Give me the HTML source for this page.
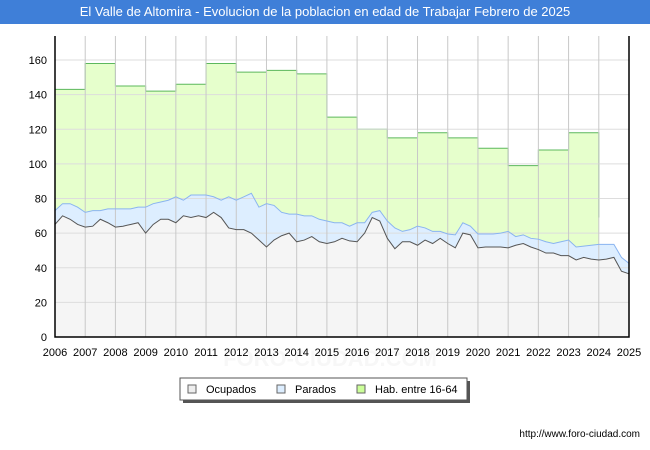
<!DOCTYPE html>
<html><head><meta charset="utf-8"><style>
body{margin:0;background:#fff;font-family:"Liberation Sans","DejaVu Sans",sans-serif}
#wrap{position:relative;width:650px;height:450px;overflow:hidden}
#title{position:absolute;left:0;top:0;width:650px;height:24px;background:#3f7fd8;color:#fff;font-size:13px;line-height:24px;text-align:center}
</style></head><body>
<div id="wrap">
<div id="title">El Valle de Altomira - Evolucion de la poblacion en edad de Trabajar Febrero de 2025</div>
<svg id="svg" width="650" height="450" style="position:absolute;left:0;top:0"></svg>
</div>
<script>
const years=[2006,2007,2008,2009,2010,2011,2012,2013,2014,2015,2016,2017,2018,2019,2020,2021,2022,2023,2024,2025];
const yTicks=[0,20,40,60,80,100,120,140,160];
const habValues=[143,158,145,142,146,158,153,154,152,127,120,115,118,115,109,99,108,118];
const paradosTotal=[73,77,77,75,72,73,73,74,74,74,74,75,75,77,78,79,81,79,82,82,82,81,79,81,79,81,83,75,77,76,72,71,71,70,70,68,67,66,66,64,66,66,72,73,67,63,61,62,64,63,61,61,59.5,59,66,64,59.5,59.5,59.5,60,61,58,59,57,56.5,55,54,55,56,52,52.5,53,53.5,53.5,53.5,46,42.5];
const ocupados=[65,70,68,65,63.5,64,68,66,63.5,64,65,66,60,65,68,68,66,70,69,70,69,72,69,63,62,62,60,56,52,56,58.5,60,55,56,58,55,54,55,57,55.5,55,60,69,67,57,51,55,55,53,56,54,57,54,51.5,60,59,51.5,52,52,52,51.5,53,54,52,50.5,48.5,48.5,47,47,44.5,46,45,44.5,45,46,38,36.5];
const NS='http://www.w3.org/2000/svg';
const svg=document.getElementById('svg');
const X0=55,X1=629,Y0=337,Y160=60;
const xs=t=>X0+(t-2006)*(X1-X0)/19;
const ys=v=>Y0-v*(Y0-Y160)/160;
function el(tag,attrs,parent){const e=document.createElementNS(NS,tag);for(const k in attrs)e.setAttribute(k,attrs[k]);(parent||svg).appendChild(e);return e;}
const bg=el('rect',{x:X0,y:36,width:X1-X0,height:Y0-36,fill:'#fff'});


const wm=el('text',{x:330,y:366,'text-anchor':'middle','font-size':22,fill:'#f7f7f7','font-weight':'bold'});
wm.textContent='FORO-CIUDAD.COM';


let hp=[];
habValues.forEach((v,i)=>{hp.push([xs(years[i]),ys(v)]);hp.push([xs(years[i]+1),ys(v)]);});
const habPts=`${xs(2006)},${ys(0)} `+hp.map(p=>p.join(',')).join(' ')+` ${xs(2024)},${ys(69)} ${xs(2024)},${ys(0)}`;
const hab=el('polygon',{points:habPts,fill:'#e6ffcc',stroke:'none'});


const habL=el('polyline',{points:hp.map(p=>p.join(',')).join(' ')+` ${xs(2024)},${ys(69)}`,fill:'none',stroke:'#5cb85c','stroke-width':1});


const tq=i=>2006+i*0.25;
const pPts=paradosTotal.map((v,i)=>`${xs(tq(i))},${ys(v)}`).join(' ');
const oPts=ocupados.map((v,i)=>`${xs(tq(i))},${ys(v)}`).join(' ');
const pa=el('polygon',{points:`${xs(2006)},${ys(0)} ${pPts} ${xs(tq(paradosTotal.length-1))},${ys(0)}`,fill:'#ddeeff'});


const oa=el('polygon',{points:`${xs(2006)},${ys(0)} ${oPts} ${xs(tq(ocupados.length-1))},${ys(0)}`,fill:'#f5f5f5'});


yTicks.forEach(v=>{
 const g=el('line',{x1:X0,x2:X1,y1:ys(v),y2:ys(v),stroke:'#dddddd','stroke-width':1});
 
 
 const t=el('text',{x:X0-8,y:ys(v)+4,'text-anchor':'end','font-size':11,fill:'#000'});
 t.textContent=v;
 
 
});
years.forEach(y=>{
 const g=el('line',{x1:xs(y),x2:xs(y),y1:36,y2:Y0,stroke:'#c8c8c8','stroke-width':1});
 
 
 const t=el('text',{x:xs(y),y:Y0+19,'text-anchor':'middle','font-size':11,fill:'#000'});
 t.textContent=y;
 
 
});
const pl=el('polyline',{points:pPts,fill:'none',stroke:'#8ab4f0','stroke-width':1});


const ol=el('polyline',{points:oPts,fill:'none',stroke:'#555','stroke-width':1});


const ax=el('path',{d:`M${X0},36 V${Y0} H${X1} V36`,fill:'none',stroke:'#000','stroke-width':1.5});


const lg=el('g',{});


el('rect',{x:183,y:381,width:287,height:22,fill:'#555'},lg);
el('rect',{x:180,y:378,width:287,height:22,fill:'#fff',stroke:'#555'},lg);
const items=[['Ocupados','#eeeeee',188],['Parados','#ddeeff',277],['Hab. entre 16-64','#ccff99',357]];
items.forEach(([n,c,x])=>{
 const g=el('g',{},lg);
 
 
 el('rect',{x:x,y:385,width:8,height:8,fill:c,stroke:'#666'},g);
 const t=el('text',{x:x+18,y:393,'font-size':11,fill:'#000'},g);
 t.textContent=n;
});
const url=el('text',{x:640,y:437,'text-anchor':'end','font-size':10,fill:'#000'});
url.textContent='http://www.foro-ciudad.com';


</script>
</body></html>
